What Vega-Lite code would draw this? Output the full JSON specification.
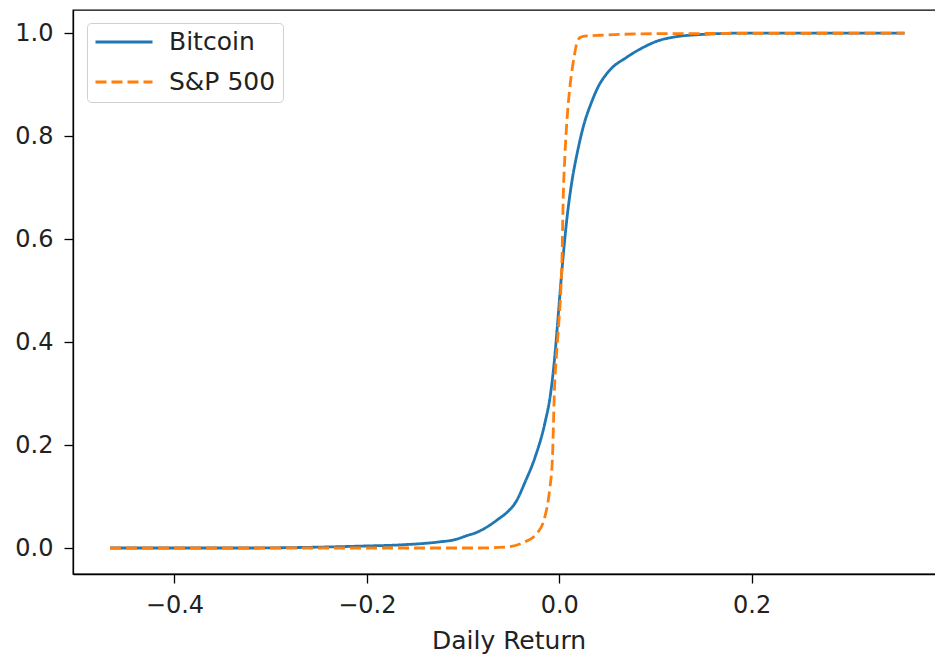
{
  "$schema": "https://vega.github.io/schema/vega-lite/v6.json",
  "width": 871,
  "height": 564,
  "autosize": {"type": "none"},
  "padding": {"left": 73, "top": 10, "right": 0, "bottom": 83},
  "background": "white",
  "config": {
    "view": {"stroke": "#000000", "strokeWidth": 1.3},
    "font": "DejaVu Sans",
    "legend": {
      "orient": "none",
      "legendX": 14,
      "legendY": 13,
      "strokeColor": "#d0d0d0",
      "fillColor": "white",
      "cornerRadius": 4,
      "padding": 7,
      "symbolType": "stroke",
      "symbolSize": 3249,
      "symbolStrokeWidth": 3,
      "labelFontSize": 25,
      "labelFont": "DejaVu Sans",
      "labelColor": "#222222",
      "labelOffset": 15,
      "clipHeight": 24,
      "rowPadding": 15
    }
  },
  "data": {
    "values": [
      {"series": "Bitcoin", "x": -0.467, "cdf": 0.0},
      {"series": "Bitcoin", "x": -0.322, "cdf": 0.0},
      {"series": "Bitcoin", "x": -0.27, "cdf": 0.001},
      {"series": "Bitcoin", "x": -0.2, "cdf": 0.004},
      {"series": "Bitcoin", "x": -0.166, "cdf": 0.006},
      {"series": "Bitcoin", "x": -0.124, "cdf": 0.012},
      {"series": "Bitcoin", "x": -0.109, "cdf": 0.016},
      {"series": "Bitcoin", "x": -0.096, "cdf": 0.024},
      {"series": "Bitcoin", "x": -0.085, "cdf": 0.031},
      {"series": "Bitcoin", "x": -0.075, "cdf": 0.041},
      {"series": "Bitcoin", "x": -0.062, "cdf": 0.058},
      {"series": "Bitcoin", "x": -0.055, "cdf": 0.068},
      {"series": "Bitcoin", "x": -0.044, "cdf": 0.093},
      {"series": "Bitcoin", "x": -0.036, "cdf": 0.126},
      {"series": "Bitcoin", "x": -0.025, "cdf": 0.177},
      {"series": "Bitcoin", "x": -0.015, "cdf": 0.242},
      {"series": "Bitcoin", "x": -0.009, "cdf": 0.3},
      {"series": "Bitcoin", "x": -0.005, "cdf": 0.365},
      {"series": "Bitcoin", "x": -0.002, "cdf": 0.43},
      {"series": "Bitcoin", "x": 0.001, "cdf": 0.5},
      {"series": "Bitcoin", "x": 0.004, "cdf": 0.565},
      {"series": "Bitcoin", "x": 0.008, "cdf": 0.64},
      {"series": "Bitcoin", "x": 0.013, "cdf": 0.71},
      {"series": "Bitcoin", "x": 0.019, "cdf": 0.77},
      {"series": "Bitcoin", "x": 0.026, "cdf": 0.825},
      {"series": "Bitcoin", "x": 0.033, "cdf": 0.863},
      {"series": "Bitcoin", "x": 0.04, "cdf": 0.894},
      {"series": "Bitcoin", "x": 0.052, "cdf": 0.927},
      {"series": "Bitcoin", "x": 0.07, "cdf": 0.953},
      {"series": "Bitcoin", "x": 0.087, "cdf": 0.972},
      {"series": "Bitcoin", "x": 0.104, "cdf": 0.986},
      {"series": "Bitcoin", "x": 0.118, "cdf": 0.992},
      {"series": "Bitcoin", "x": 0.153, "cdf": 0.998},
      {"series": "Bitcoin", "x": 0.188, "cdf": 1.0},
      {"series": "Bitcoin", "x": 0.359, "cdf": 1.0},
      {"series": "S&P 500", "x": -0.467, "cdf": 0.0},
      {"series": "S&P 500", "x": -0.166, "cdf": 0.0},
      {"series": "S&P 500", "x": -0.083, "cdf": 0.0},
      {"series": "S&P 500", "x": -0.055, "cdf": 0.002},
      {"series": "S&P 500", "x": -0.038, "cdf": 0.01},
      {"series": "S&P 500", "x": -0.023, "cdf": 0.029},
      {"series": "S&P 500", "x": -0.015, "cdf": 0.06},
      {"series": "S&P 500", "x": -0.01, "cdf": 0.113},
      {"series": "S&P 500", "x": -0.007, "cdf": 0.177},
      {"series": "S&P 500", "x": -0.006, "cdf": 0.242},
      {"series": "S&P 500", "x": -0.005, "cdf": 0.306},
      {"series": "S&P 500", "x": -0.003, "cdf": 0.371},
      {"series": "S&P 500", "x": -0.0005, "cdf": 0.436},
      {"series": "S&P 500", "x": 0.0016, "cdf": 0.5},
      {"series": "S&P 500", "x": 0.003, "cdf": 0.572},
      {"series": "S&P 500", "x": 0.004, "cdf": 0.669},
      {"series": "S&P 500", "x": 0.006, "cdf": 0.766},
      {"series": "S&P 500", "x": 0.008, "cdf": 0.83},
      {"series": "S&P 500", "x": 0.011, "cdf": 0.894},
      {"series": "S&P 500", "x": 0.014, "cdf": 0.937},
      {"series": "S&P 500", "x": 0.016, "cdf": 0.96},
      {"series": "S&P 500", "x": 0.019, "cdf": 0.985},
      {"series": "S&P 500", "x": 0.023, "cdf": 0.993},
      {"series": "S&P 500", "x": 0.042, "cdf": 0.996},
      {"series": "S&P 500", "x": 0.104, "cdf": 0.999},
      {"series": "S&P 500", "x": 0.359, "cdf": 1.0}
    ]
  },
  "mark": {"type": "line", "strokeWidth": 2.8, "clip": true, "interpolate": "monotone"},
  "encoding": {
    "x": {
      "field": "x",
      "type": "quantitative",
      "scale": {"domain": [-0.5055, 0.4], "nice": false, "zero": false},
      "axis": {
        "values": [-0.4, -0.2, 0, 0.2],
        "format": ".1f",
        "labelExpr": "replace(datum.label, '-', '−')",
        "title": "Daily Return",
        "grid": false,
        "tickSize": 9,
        "tickWidth": 1.3,
        "domainWidth": 1.3,
        "domainColor": "#000000",
        "tickColor": "#000000",
        "labelPadding": 10,
        "labelFontSize": 24,
        "labelColor": "#222222",
        "titlePadding": 11,
        "titleFontSize": 25,
        "titleFontWeight": "normal",
        "titleColor": "#222222"
      }
    },
    "y": {
      "field": "cdf",
      "type": "quantitative",
      "scale": {"domain": [-0.0505, 1.045], "nice": false, "zero": false},
      "axis": {
        "values": [0, 0.2, 0.4, 0.6, 0.8, 1.0],
        "format": ".1f",
        "title": null,
        "grid": false,
        "tickSize": 9,
        "tickWidth": 1.3,
        "domainWidth": 1.3,
        "domainColor": "#000000",
        "tickColor": "#000000",
        "labelPadding": 11,
        "labelFontSize": 24,
        "labelColor": "#222222"
      }
    },
    "color": {
      "field": "series",
      "type": "nominal",
      "scale": {"domain": ["Bitcoin", "S&P 500"], "range": ["#1f77b4", "#ff7f0e"]},
      "legend": {"title": null}
    },
    "strokeDash": {
      "field": "series",
      "type": "nominal",
      "scale": {"domain": ["Bitcoin", "S&P 500"], "range": [[1, 0], [11, 5]]},
      "legend": {"title": null}
    }
  }
}
